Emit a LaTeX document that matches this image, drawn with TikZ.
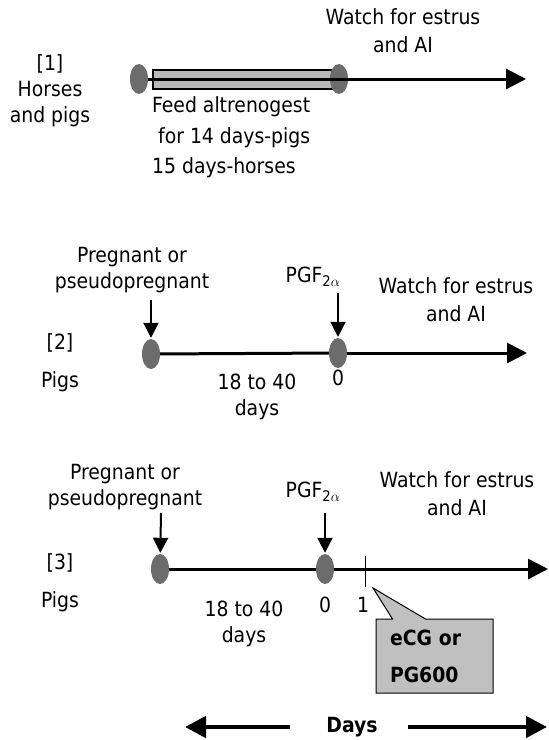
\documentclass[tikz,border=0pt]{standalone}
\usepackage{fontspec}
\setmainfont{DejaVu Sans Condensed}
\usetikzlibrary{shapes,shapes.callouts,arrows.meta,positioning,calc}

\definecolor{dotgray}{RGB}{108,108,108}
\definecolor{bargray}{RGB}{184,184,184}
\definecolor{boxgray}{RGB}{192,192,192}

\tikzset{
  dot/.style={ellipse, fill=dotgray, minimum width=18bp, minimum height=30bp, inner sep=0pt},
  lbl/.style={align=center, font=\fontsize{21}{26}\selectfont, inner sep=0pt},
  tline/.style={line width=3bp, -{Triangle[length=20bp,width=20bp]}},
  cue/.style={line width=2bp, -{Triangle[length=15bp,width=15bp]}, shorten >=1bp},
  span/.style={line width=4.5bp, -{Triangle[length=21bp,width=21bp]}},
}

\begin{document}
\begin{tikzpicture}[x=1bp, y=-1bp]
        \useasboundingbox (0,0) rectangle (549,740);

        % [1] altrenogest feeding
        \node (grp1) [lbl] at (50,91) {[1]\\Horses\\and pigs};
        \node (e1a) [dot] at (139,79) {};
        \node (bar1) [draw, line width=1.5bp, fill=bargray, minimum width=182bp, minimum height=19bp, inner sep=0pt] at (244,79.5) {};
        \node (e1b) [dot] at (339,79) {};
        \coordinate (tip1) at (526,79);
        \draw[tline] (e1a) -- (tip1);
        \node (watch1) [lbl] at (403,31) {Watch for estrus\\[2bp]and AI};
        \node (feed1) [lbl, align=left, anchor=west] at (152,137.5) {Feed altrenogest\\[4.5bp]\hspace{6bp}for 14 days-pigs\\[4.5bp]15 days-horses};

        % [2] PGF2a in pigs
        \node (grp2) [lbl] at (60,343) {[2]};
        \node (pig2) [lbl] at (60,382) {Pigs};
        \node (preg2) [lbl] at (132,270) {Pregnant or\\pseudopregnant};
        \node (e2a) [dot] at (151,354) {};
        \node (e2b) [dot] at (338,353) {};
        \coordinate (tip2) at (527,353);
        \draw[line width=3bp] (e2a) -- (e2b);
        \draw[tline] (e2b) -- (tip2);
        \coordinate (c2a) at (151,300);
        \coordinate (c2b) at (338,293);
        \draw[cue] (c2a) -- (e2a);
        \draw[cue] (c2b) -- (e2b);
        \node (pgf2) [lbl] at (313,277) {PGF\textsubscript{2$\alpha$}};
        \node (zero2) [lbl] at (338,378) {0};
        \node (days2) [lbl] at (257,396.5) {18 to 40\\days};
        \node (watch2) [lbl] at (456,300) {Watch for estrus\\[2bp]and AI};

        % [3] PGF2a plus gonadotropin
        \node (grp3) [lbl] at (60,563) {[3]};
        \node (pig3) [lbl] at (60,602) {Pigs};
        \node (preg3) [lbl] at (125,487) {Pregnant or\\pseudopregnant};
        \node (e3a) [dot] at (160,569) {};
        \node (e3b) [dot] at (325,569) {};
        \coordinate (tip3) at (548,569);
        \draw[line width=3bp] (e3a) -- (e3b);
        \draw[tline] (e3b) -- (tip3);
        \coordinate (c3a) at (161,513);
        \coordinate (c3b) at (325,513);
        \draw[cue] (c3a) -- (e3a);
        \draw[cue] (c3b) -- (e3b);
        \coordinate (tk3a) at (365,556);
        \coordinate (tk3b) at (365,587);
        \draw[line width=1bp] (tk3a) -- (tk3b);
        \node (pgf3) [lbl] at (313,492) {PGF\textsubscript{2$\alpha$}};
        \node (zero3) [lbl] at (325,605) {0};
        \node (one3) [lbl] at (363,605) {1};
        \node (days3) [lbl] at (244,623.5) {18 to 40\\days};
        \node (watch3) [lbl] at (457,494) {Watch for estrus\\[2bp]and AI};
        \coordinate (pt3) at (373,588);
        \node (hormone) [rectangle callout, draw, line width=1bp, fill=boxgray,
            callout absolute pointer={(pt3)}, callout pointer width=33bp,
            text width=89bp, inner xsep=14bp, minimum height=74bp, align=left,
            font=\fontsize{21}{25}\selectfont\bfseries] at (434.5,656) {eCG or\\[12bp]PG600};

        % time axis
        \node (axis) [lbl, font=\fontsize{21}{26}\selectfont\bfseries] at (352,727) {Days};
        \coordinate (ax1) at (290,727);
        \coordinate (ax2) at (408,727);
        \coordinate (axl) at (185,727);
        \coordinate (axr) at (547,727);
        \draw[span] (ax1) -- (axl);
        \draw[span] (ax2) -- (axr);
    \end{tikzpicture}
\end{document}
